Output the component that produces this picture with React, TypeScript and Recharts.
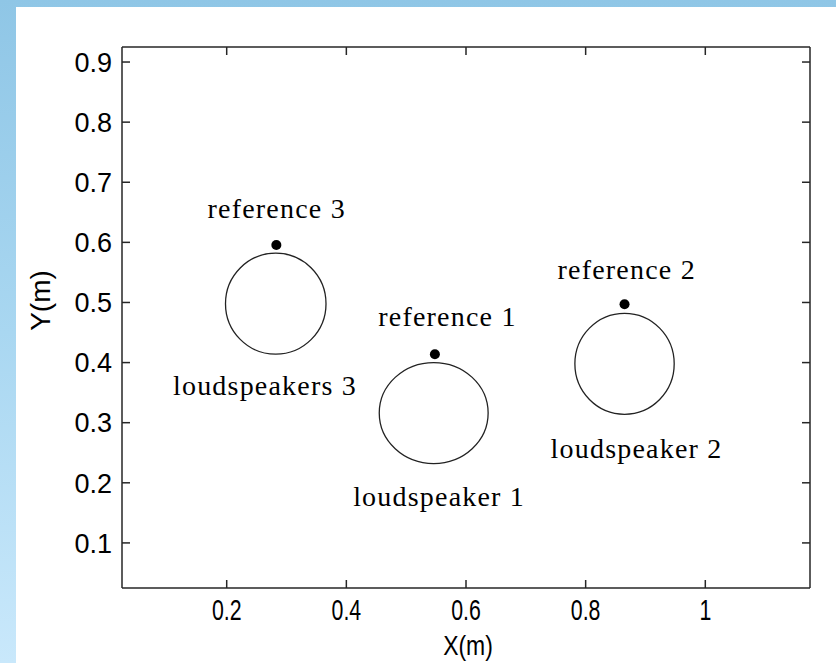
import React from 'react';
import { ScatterChart, Scatter, XAxis, YAxis, ReferenceArea } from 'recharts';

// Axis limits and tick values (metres)
const X_MIN = 0.025;
const X_MAX = 1.175;
const Y_MIN = 0.025;
const Y_MAX = 0.925;
const xTicks = [0.2, 0.4, 0.6, 0.8, 1];
const yTicks = [0.1, 0.2, 0.3, 0.4, 0.5, 0.6, 0.7, 0.8, 0.9];

// Loudspeaker arrays: centre and radii
const speakerNames = ['loudspeaker 1', 'loudspeaker 2', 'loudspeakers 3'];
const speakerX = [0.546, 0.865, 0.282];
const speakerY = [0.316, 0.398, 0.498];
const speakerRx = [0.091, 0.083, 0.084];
const speakerRy = [0.084, 0.084, 0.084];
const speakerLabelX = [0.555, 0.885, 0.264];
const speakerLabelY = [0.161, 0.241, 0.346];

// Reference microphone positions
const refNames = ['reference 1', 'reference 2', 'reference 3'];
const refX = [0.548, 0.865, 0.283];
const refY = [0.414, 0.497, 0.5955];
const refLabelX = [0.569, 0.8686, 0.2836];
const refLabelY = [0.461, 0.539, 0.6405];

const refPoints = refX.map((x, i) => ({ x, y: refY[i], name: refNames[i] }));
const labelPoints = [
  ...refNames.map((name, i) => ({ x: refLabelX[i], y: refLabelY[i], name })),
  ...speakerNames.map((name, i) => ({ x: speakerLabelX[i], y: speakerLabelY[i], name })),
];

const AXIS_COLOR = '#262626';
const SANS = '"Liberation Sans", Arial, sans-serif';
const SERIF = '"Liberation Serif", "Times New Roman", serif';
const TICK_LEN = 8;

const BottomTick = (props: any) => {
  const { x, y, payload } = props;
  return (
    <g>
      <line x1={x} y1={y} x2={x} y2={y - TICK_LEN} stroke={AXIS_COLOR} strokeWidth={1.5} />
      <g transform={`translate(${x},${y + 32}) scale(0.82,1.15)`}>
        <text x={0} y={0} textAnchor="middle" fontFamily={SANS} fontSize={26} fill="#000">
          {String(payload.value)}
        </text>
      </g>
    </g>
  );
};

const TopTick = (props: any) => {
  const { x, y } = props;
  return <line x1={x} y1={y} x2={x} y2={y + TICK_LEN} stroke={AXIS_COLOR} strokeWidth={1.5} />;
};

const LeftTick = (props: any) => {
  const { x, y, payload } = props;
  return (
    <g>
      <line x1={x} y1={y} x2={x + TICK_LEN} y2={y} stroke={AXIS_COLOR} strokeWidth={1.5} />
      <text x={x - 10} y={y} dy="0.36em" textAnchor="end" fontFamily={SANS} fontSize={27} fill="#000">
        {String(payload.value)}
      </text>
    </g>
  );
};

const RightTick = (props: any) => {
  const { x, y } = props;
  return <line x1={x} y1={y} x2={x - TICK_LEN} y2={y} stroke={AXIS_COLOR} strokeWidth={1.5} />;
};

const SpeakerShape = (props: any) => {
  const { x, y, width, height } = props;
  return (
    <ellipse
      cx={x + width / 2}
      cy={y + height / 2}
      rx={Math.abs(width) / 2}
      ry={Math.abs(height) / 2}
      fill="none"
      stroke="#222"
      strokeWidth={1.3}
    />
  );
};

const RefDot = (props: any) => {
  const { cx, cy } = props;
  return <circle cx={cx} cy={cy} r={5} fill="#000" />;
};

const TextMark = (props: any) => {
  const { cx, cy, payload } = props;
  return (
    <text x={cx} y={cy} textAnchor="middle" fontFamily={SERIF} fontSize={28} letterSpacing={1.2} fill="#000">
      {payload.name}
    </text>
  );
};

const YLabel = (props: any) => {
  const { viewBox } = props;
  const cx = viewBox.x + 40;
  const cy = viewBox.y + viewBox.height / 2 - 17;
  return (
    <text
      x={cx}
      y={cy}
      transform={`rotate(-90, ${cx}, ${cy})`}
      dy="0.36em"
      textAnchor="middle"
      fontFamily={SANS}
      fontSize={28}
      fill="#000"
    >
      Y(m)
    </text>
  );
};

const XLabel = (props: any) => {
  const { viewBox } = props;
  const cx = viewBox.x + viewBox.width / 2 + 2;
  const cy = viewBox.y + 67;
  return (
    <g transform={`translate(${cx},${cy}) scale(0.85,1.05)`}>
      <text x={0} y={0} textAnchor="middle" fontFamily={SANS} fontSize={27} fill="#000">
        X(m)
      </text>
    </g>
  );
};

export default function App() {
  return (
    <div
      style={{
        position: 'absolute',
        left: 0,
        top: 0,
        width: 836,
        height: 663,
        background: 'linear-gradient(to bottom, #8fc6e6 0%, #a9d7f1 50%, #c9e8fb 100%)',
        overflow: 'hidden',
      }}
    >
      <div
        style={{
          position: 'absolute',
          left: 16,
          top: 7,
          right: 0,
          bottom: 0,
          background: '#ffffff',
        }}
      />
      <div style={{ position: 'absolute', left: 0, top: 0 }}>
        <ScatterChart width={836} height={663} margin={{ top: 46, right: 25, bottom: 0, left: 0 }}>
          <XAxis
            xAxisId="b"
            type="number"
            dataKey="x"
            domain={[X_MIN, X_MAX]}
            ticks={xTicks}
            allowDataOverflow
            interval={0}
            height={75}
            tickSize={0}
            tickMargin={0}
            tickLine={false}
            tick={<BottomTick />}
            axisLine={{ stroke: AXIS_COLOR, strokeWidth: 1.5 }}
            label={<XLabel />}
          />
          <XAxis
            xAxisId="t"
            orientation="top"
            type="number"
            dataKey="x"
            domain={[X_MIN, X_MAX]}
            ticks={xTicks}
            allowDataOverflow
            interval={0}
            height={1}
            tickSize={0}
            tickMargin={0}
            tickLine={false}
            tick={<TopTick />}
            axisLine={{ stroke: AXIS_COLOR, strokeWidth: 1.5 }}
          />
          <YAxis
            yAxisId="l"
            type="number"
            dataKey="y"
            domain={[Y_MIN, Y_MAX]}
            ticks={yTicks}
            allowDataOverflow
            interval={0}
            width={122}
            tickSize={0}
            tickMargin={0}
            tickLine={false}
            tick={<LeftTick />}
            axisLine={{ stroke: AXIS_COLOR, strokeWidth: 1.5 }}
            label={<YLabel />}
          />
          <YAxis
            yAxisId="r"
            orientation="right"
            type="number"
            dataKey="y"
            domain={[Y_MIN, Y_MAX]}
            ticks={yTicks}
            allowDataOverflow
            interval={0}
            width={1}
            tickSize={0}
            tickMargin={0}
            tickLine={false}
            tick={<RightTick />}
            axisLine={{ stroke: AXIS_COLOR, strokeWidth: 1.5 }}
          />
          {speakerNames.map((name, i) => (
            <ReferenceArea
              key={name}
              xAxisId="b"
              yAxisId="l"
              x1={speakerX[i] - speakerRx[i]}
              x2={speakerX[i] + speakerRx[i]}
              y1={speakerY[i] - speakerRy[i]}
              y2={speakerY[i] + speakerRy[i]}
              shape={<SpeakerShape />}
            />
          ))}
          <Scatter
            xAxisId="b"
            yAxisId="l"
            data={refPoints}
            shape={<RefDot />}
            isAnimationActive={false}
          />
          <Scatter
            xAxisId="t"
            yAxisId="r"
            data={labelPoints}
            shape={<TextMark />}
            isAnimationActive={false}
          />
        </ScatterChart>
      </div>
    </div>
  );
}
